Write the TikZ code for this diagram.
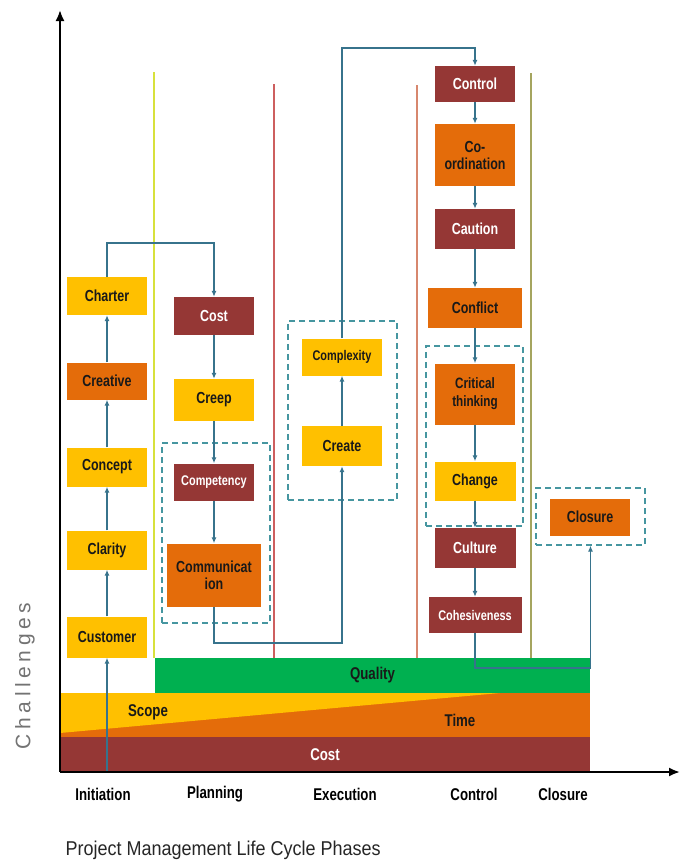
\documentclass[tikz,border=0pt]{standalone}
\usepackage{fontspec}
\setmainfont{Liberation Sans}
\newfontfamily\narrowfont[FakeStretch=0.78]{Liberation Sans}
\newfontfamily\titlefont[FakeStretch=0.9]{Liberation Sans}
\newfontfamily\spacedfont[LetterSpace=22]{Liberation Sans}
\usepackage{tikz}
\usetikzlibrary{shapes.geometric, arrows, arrows.meta}
\definecolor{boxyellow}{RGB}{255,192,0}
\definecolor{boxorange}{RGB}{228,108,10}
\definecolor{boxred}{RGB}{149,55,53}
\definecolor{bandgreen}{RGB}{0,176,80}
\definecolor{linkblue}{RGB}{55,115,140}
\definecolor{groupteal}{RGB}{70,150,160}
\tikzstyle{block} = [rectangle, inner sep=0pt, minimum width=80pt, align=center,
font=\narrowfont\bfseries\fontsize{16}{17}\selectfont]
\tikzstyle{ybox} = [block, fill=boxyellow, text=black!90]
\tikzstyle{obox} = [block, fill=boxorange, text=black!90]
\tikzstyle{rbox} = [block, fill=boxred, text=white]
\tikzstyle{small} = [font=\narrowfont\bfseries\fontsize{14}{15}\selectfont]
\tikzstyle{group} = [draw=groupteal, rectangle, inner sep=0pt, line width=1.2pt, dash pattern=on 6pt off 4pt]
\tikzstyle{link} = [draw=linkblue, line width=1.4pt, -{Latex[length=6pt,width=5pt]}]
\tikzstyle{band} = [rectangle, inner sep=0pt, font=\narrowfont\bfseries\fontsize{17}{18}\selectfont]
\tikzstyle{phase} = [font=\narrowfont\bfseries\fontsize{17}{18}\selectfont]
\tikzstyle{divider} = [line width=1.2pt]

\begin{document}
\begin{tikzpicture}[x=1pt, y=-1pt, node distance=85pt, >={Latex[length=11pt,width=9pt]}]
	\useasboundingbox (0,0) rectangle (683,865);
	% Phase dividers first, the bands cover their lower ends
	\draw [divider, color={rgb,255:red,215;green,225;blue,60}] (154,72) -- (154,658);
	\draw [divider, color={rgb,255:red,205;green,95;blue,95}] (274,84) -- (274,658);
	\draw [divider, color={rgb,255:red,215;green,135;blue,110}] (417,85) -- (417,658);
	\draw [divider, color={rgb,255:red,165;green,165;blue,95}] (531,73) -- (531,658);
	
	% The constraint bands along the bottom
	\node [band, fill=boxred, text=white, minimum width=530pt, minimum height=35pt] (costband) at (325,754.5) {Cost};
	\fill [boxorange] (60,693) rectangle (590,737);
	\fill [boxyellow] (60,693) -- (500,693) -- (60,733) -- cycle;
	\node [band, text=black!90] (scope) at (148,712) {Scope};
	\node [band, text=black!90] (time) at (460,720) {Time};
	\node [band, fill=bandgreen, text=black!90, minimum width=435pt, minimum height=35pt] (quality) at (372.5,675.5) {Quality};
	
	% Dashed groups
	\node [group, minimum width=108pt, minimum height=180pt] (planninggroup) at (216,533) {};
	\node [group, minimum width=109pt, minimum height=179pt] (executiongroup) at (342.5,410.5) {};
	\node [group, minimum width=97pt, minimum height=180pt] (controlgroup) at (474.5,436) {};
	\node [group, minimum width=109pt, minimum height=57pt] (closuregroup) at (590.5,516.5) {};
	
	% Initiation column, built upwards
	\node [ybox, minimum height=41pt] (customer) at (107,637) {Customer};
	\node [ybox, minimum height=39pt, above of=customer, node distance=87pt] (clarity) {Clarity};
	\node [ybox, minimum height=39pt, above of=clarity, node distance=83pt] (concept) {Concept};
	\node [obox, minimum height=37pt, above of=concept, node distance=86pt] (creative) {Creative};
	\node [ybox, minimum height=38pt, above of=creative, node distance=85pt] (charter) {Charter};
	
	% Planning column
	\node [rbox, minimum height=38pt] (cost) at (214,316) {Cost};
	\node [ybox, minimum height=42pt, below of=cost, node distance=84pt] (creep) {Creep};
	\node [rbox, small, minimum height=37pt, below of=creep, node distance=82pt] (competency) {Competency};
	\node [obox, minimum width=94pt, minimum height=63pt, below of=competency, node distance=93pt] (communication) {Communicat\\ion};
	
	% Execution column
	\node [ybox, minimum height=40pt] (create) at (342,446) {Create};
	\node [ybox, small, minimum height=37pt, above of=create, node distance=89pt] (complexity) {Complexity};
	
	% Control column
	\node [rbox, minimum height=36pt] (control) at (475,84) {Control};
	\node [obox, minimum height=62pt, below of=control, node distance=71pt] (coordination) {Co-\\ordination};
	\node [rbox, minimum height=40pt, below of=coordination, node distance=74pt] (caution) {Caution};
	\node [obox, minimum width=94pt, minimum height=40pt, below of=caution, node distance=79pt] (conflict) {Conflict};
	\node [obox, minimum height=61pt, below of=conflict, node distance=86pt, font=\narrowfont\bfseries\fontsize{15}{18}\selectfont] (critical) {Critical\\thinking};
	\node [ybox, minimum width=81pt, minimum height=39pt, below of=critical, node distance=87pt] (change) {Change};
	\node [rbox, minimum width=81pt, minimum height=40pt, below of=change, node distance=67pt] (culture) {Culture};
	\node [rbox, small, minimum width=93pt, minimum height=36pt, below of=culture, node distance=67pt] (cohesiveness) {Cohesiveness};
	
	% Closure
	\node [obox, minimum height=37pt] (closure) at (590,517) {Closure};
	
	% Bend points of the long connectors
	\coordinate (start) at (107,772);
	\coordinate (bend1) at (0,243);
	\coordinate (bend2) at (0,643);
	\coordinate (bend3) at (0,48);
	\coordinate (bend4) at (0,668);
	
	% Connectors
	\draw [link] (start) -- (customer.south);
	\draw [link] (customer) -- (clarity);
	\draw [link] (clarity) -- (concept);
	\draw [link] (concept) -- (creative);
	\draw [link] (creative) -- (charter);
	\draw [link] (charter.north) -- (charter.north |- bend1) -| (cost.north);
	\draw [link] (cost) -- (creep);
	\draw [link] (creep) -- (competency);
	\draw [link] (competency) -- (communication);
	\draw [link] (communication.south) -- (communication.south |- bend2) -| (create.south);
	\draw [link] (create) -- (complexity);
	\draw [link] (complexity.north) -- (complexity.north |- bend3) -| (control.north);
	\draw [link] (control) -- (coordination);
	\draw [link] (coordination) -- (caution);
	\draw [link] (caution) -- (conflict);
	\draw [link] (conflict) -- (critical);
	\draw [link] (critical) -- (change);
	\draw [link] (change) -- (culture);
	\draw [link] (culture) -- (cohesiveness);
	\draw [link] (cohesiveness.south) -- (cohesiveness.south |- bend4) -| (closuregroup.south);
	
	% Axes
	\coordinate (origin) at (60,772);
	\coordinate (yend) at (60,10);
	\coordinate (xend) at (680,772);
	\draw [->, line width=2pt] (origin) -- (yend);
	\draw [->, line width=2pt] (origin) -- (xend);
	
	% Phase names and axis titles
	\node [phase] (initiation) at (103,794) {Initiation};
	\node [phase] (planning) at (215,794) {Planning};
	\node [phase] (execution) at (345,794) {Execution};
	\node [phase] (controlphase) at (474,794) {Control};
	\node [phase] (closurephase) at (563,794) {Closure};
	\node [anchor=west, text=black!85, font=\titlefont\fontsize{20}{22}\selectfont] (title) at (62,850) {Project Management Life Cycle Phases};
	\node [rotate=90, text=black!55, font=\spacedfont\fontsize{21}{24}\selectfont] (challenges) at (25,676) {Challenges};
\end{tikzpicture}
\end{document}
